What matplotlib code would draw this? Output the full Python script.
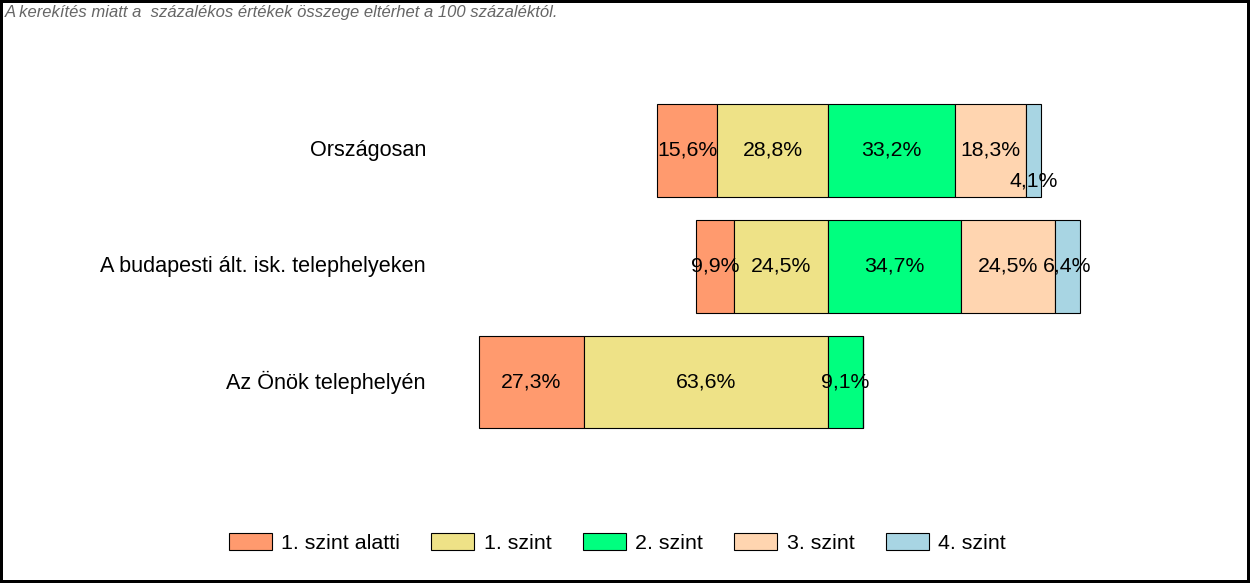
import numpy as np
import matplotlib
matplotlib.use('Agg')
import matplotlib.pyplot as plt

plt.rcParams['font.family'] = ['Liberation Sans', 'DejaVu Sans']

# data
groups = ['Országosan', 'A budapesti ált. isk. telephelyeken', 'Az Önök telephelyén']
levels = ['1. szint alatti', '1. szint', '2. szint', '3. szint', '4. szint']
colors = ['#FF9A6E', '#EEE287', '#00FF7F', '#FFD5B0', '#A8D5E3']
orszagos = [15.6, 28.8, 33.2, 18.3, 4.1]
budapest = [9.9, 24.5, 34.7, 24.5, 6.4]
onok = [27.3, 63.6, 9.1, 0, 0]
vals = np.array([orszagos, budapest, onok])

note = 'A kerekítés miatt a  százalékos értékek összege eltérhet a 100 százaléktól.'

fig = plt.figure(figsize=(12.5, 5.83), dpi=100)
fig.patch.set_edgecolor('black')
fig.patch.set_linewidth(3)

ax = fig.add_axes([0, 0, 1, 1])
ax.axis('off')
ax.set_xlim(-215.6, 109.9)
ax.set_ylim(3.737, -1.300)

y = np.arange(len(groups))
# bars centred at the 1. szint / 2. szint border
start = -(vals[:, 0] + vals[:, 1])
for j in range(len(levels)):
    left = start + vals[:, :j].sum(axis=1)
    ax.barh(y, vals[:, j], left=left, height=0.8, color=colors[j],
            edgecolor='black', linewidth=0.8, label=levels[j])
    for i in range(len(groups)):
        v = vals[i, j]
        if v <= 0:
            continue
        yy = y[i]
        if v < 5 and j == 4 and i == 0:
            yy = y[i] + 0.26   # small label pushed down
        ax.text(left[i] + v / 2, yy, f'{v:.1f}%'.replace('.', ','),
                ha='center', va='center', fontsize=15.3, color='black')

for i, g in enumerate(groups):
    ax.text(-104.7, y[i], g, ha='right', va='center', fontsize=15.6)

fig.text(5 / 1250, 1 - 13 / 583, note, ha='left', va='center', fontsize=12,
         style='italic', color='#666666')

fig.legend(loc='center', bbox_to_anchor=(617.5 / 1250, 1 - 543 / 583), ncol=5,
           frameon=False, fontsize=15.4, handlelength=2.0, handleheight=0.85,
           handletextpad=0.46, columnspacing=1.45, borderpad=0)

fig.savefig('out.png', dpi=100)
